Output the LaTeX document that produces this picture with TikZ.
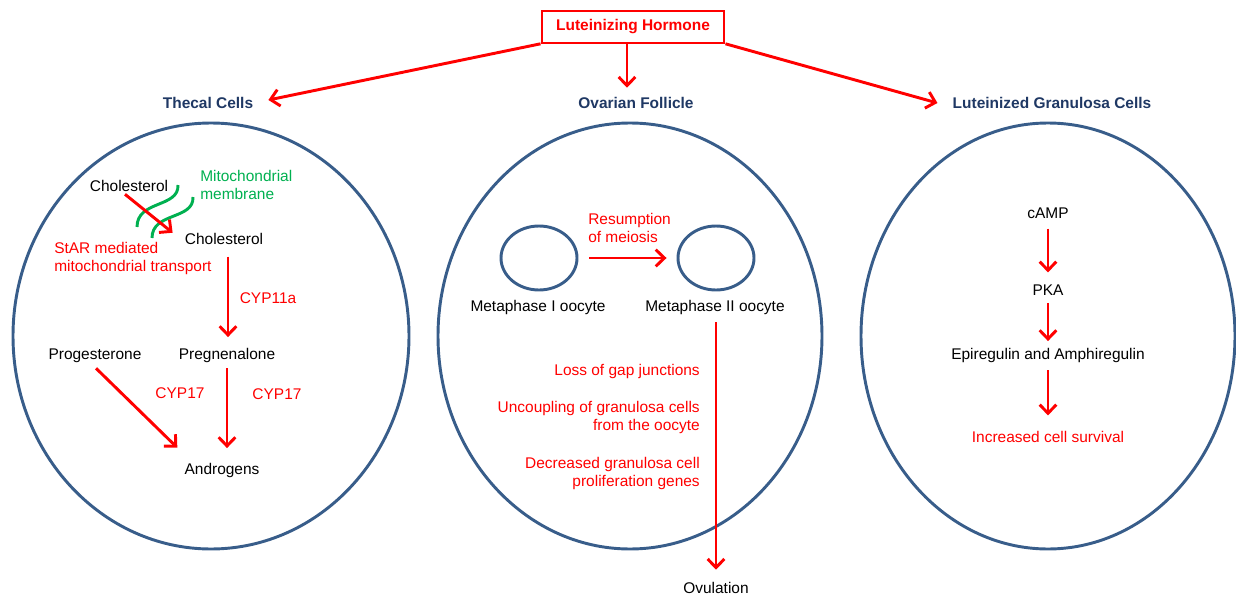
\documentclass[tikz,border=0pt]{standalone}
\usepackage{fontspec}
\setmainfont{Liberation Sans}
\usetikzlibrary{arrows.meta,shapes.geometric}
\definecolor{lhred}{RGB}{255,0,0}
\definecolor{navy}{RGB}{31,56,100}
\definecolor{cellblue}{RGB}{56,93,138}
\definecolor{mgreen}{RGB}{0,176,80}
\begin{document}
\begin{tikzpicture}[x=0.75pt,y=-0.75pt,
  txt/.style={inner sep=0pt, font=\fontsize{11.6}{13.5}\selectfont, text height=8.5pt, text depth=2pt},
  rtxt/.style={txt, text=lhred},
  gtxt/.style={txt, text=mgreen},
  head/.style={inner sep=0pt, font=\fontsize{11.6}{13.5}\selectfont\bfseries, text=navy, text height=8.5pt, text depth=2pt},
  arr/.style={draw=lhred, line width=2.2pt, -{Straight Barb[length=6.5pt,width=12.5pt]}},
  cell/.style={draw=cellblue, line width=2.2pt, ellipse, inner sep=0pt},
  memb/.style={draw=mgreen, line width=2.2pt},
  lhbox/.style={draw=lhred, line width=2.2pt, text=lhred, font=\fontsize{11.6}{13.5}\selectfont\bfseries, minimum width=136.5pt, minimum height=24pt, inner sep=0pt}
]
\useasboundingbox (0,0) rectangle (1236,596);

% cells
\node[cell, minimum width=297pt, minimum height=319.5pt] (thecalcell) at (211,336) {};
\node[cell, minimum width=288pt, minimum height=319.5pt] (follicle) at (630,336) {};
\node[cell, minimum width=280.5pt, minimum height=319.5pt] (granulosa) at (1048,336) {};

% top
\node[lhbox] (lh) at (633,27) {Luteinizing Hormone};
\node[head] (thecal) at (208,104) {Thecal Cells};
\node[head] (ovf) at (636,104) {Ovarian Follicle};
\node[head] (lgc) at (1052,104) {Luteinized Granulosa Cells};

\draw[arr] ([yshift=0.5pt]lh.south west) -- ([shift={(15,-4)}]thecal.east);
\draw[arr, shorten >=6.75pt] ([shift={(-6,0)}]lh.south) -- ([shift={(-6,0)}]lh.south |- ovf.north);
\draw[arr] ([yshift=0.5pt]lh.south east) -- ([shift={(-15,-1)}]lgc.west);

% thecal cells
\node[txt] (chol1) at (129,187) {Cholesterol};
\node[gtxt, anchor=west, align=left] (mito) at (200,195) {Mitochondrial\\membrane};
\node[txt] (chol2) at (224,240) {Cholesterol};
\node[rtxt, anchor=west, align=left] (star) at (54,267) {StAR mediated\\mitochondrial transport};
\node[rtxt] (cyp11a) at (268,299) {CYP11a};
\node[txt] (preg) at (227,355) {Pregnenalone};
\node[txt] (prog) at (95,355) {Progesterone};
\node[rtxt] (cyp17a) at (180,394) {CYP17};
\node[rtxt] (cyp17b) at (277,395) {CYP17};
\node[txt] (andro) at (222,470) {Androgens};

\draw[memb] (178,185) .. controls (179,208) and (137,200) .. (137,227);
\draw[memb] (193,197) .. controls (194,220) and (152,212) .. (152,238);

\draw[arr] ([shift={(-4,0)}]chol1.south) -- ([shift={(-12,0)}]chol2.north west);
\draw[arr, shorten <=7pt, shorten >=8pt] ([xshift=0.75pt]chol2.south -| preg.north) -- ([xshift=0.75pt]preg.north);
\draw[arr] ([shift={(1,6)}]prog.south) -- ([shift={(-7,-15)}]andro.north west);
\draw[arr, shorten <=4.5pt, shorten >=11pt] (preg.south) -- (preg.south |- andro.north);

% follicle
\node[cell, minimum width=57pt, minimum height=48pt] (oo1) at (539,258) {};
\node[cell, minimum width=57pt, minimum height=48pt] (oo2) at (716,258) {};
\node[txt] (met1) at (538,307) {Metaphase I oocyte};
\node[txt] (met2) at (715,307) {Metaphase II oocyte};
\node[rtxt, anchor=west, align=left] (resum) at (588,238) {Resumption\\of meiosis};
\node[rtxt, anchor=east] (loss) at (700,371) {Loss of gap junctions};
\node[rtxt, anchor=east, align=right] (uncoup) at (700,426) {Uncoupling of granulosa cells\\from the oocyte};
\node[rtxt, anchor=east, align=right] (decr) at (700,482) {Decreased granulosa cell\\proliferation genes};
\node[txt] (ovul) at (716,589) {Ovulation};

\draw[arr, shorten <=8pt, shorten >=7.5pt] (oo1.east) -- (oo2.west);
\draw[arr, shorten <=6pt, shorten >=9pt] (ovul.north |- met2.south) -- (ovul.north);

% granulosa
\node[txt] (camp) at (1048,214) {cAMP};
\node[txt] (pka) at (1048,291) {PKA};
\node[txt] (epi) at (1048,355) {Epiregulin and Amphiregulin};
\node[rtxt] (incr) at (1048,438) {Increased cell survival};

\draw[arr, shorten <=5.5pt, shorten >=8.5pt] (camp) -- (pka);
\draw[arr, shorten <=3.5pt, shorten >=5pt] (pka) -- (epi);
\draw[arr, shorten <=6pt, shorten >=11.5pt] (epi) -- (incr);
\end{tikzpicture}
\end{document}
